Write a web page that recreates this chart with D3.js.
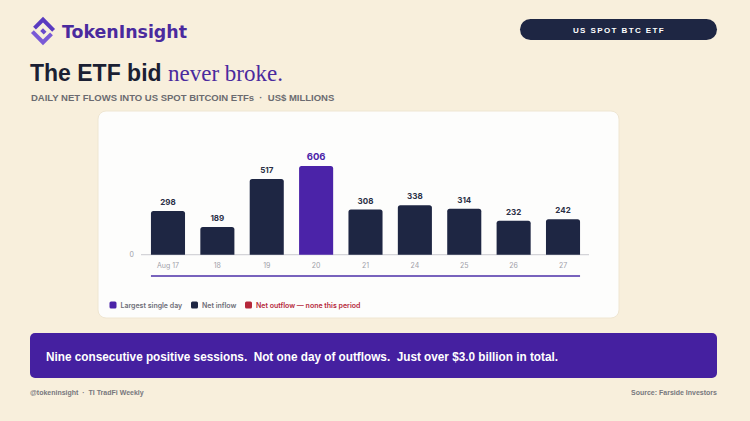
<!DOCTYPE html>
<html>
<head>
<meta charset="utf-8">
<script src="https://cdn.jsdelivr.net/npm/d3@7"></script>
<style>
  html, body { margin: 0; padding: 0; background: #f8efdc; }
  svg { display: block; }
</style>
</head>
<body>
<div id="chart"></div>
<script>
const days = ["Aug 17", "18", "19", "20", "21", "24", "25", "26", "27"];
const flows = [298, 189, 517, 606, 308, 338, 314, 232, 242];
const legendItems = [
    { label: "Largest single day", color: "#4b23a8", text: "#6e6e78" },
    { label: "Net inflow", color: "#1e2643", text: "#6e6e78" },
    { label: "Net outflow — none this period", color: "#b5283a", text: "#b5283a" }];

const width = 750;
const height = 421;
const navy = "#1e2643";
const purple = "#4b23a8";
const sp = "\u00A0";

const svg = d3.select("#chart")
    .append("svg")
    .attr("width", width)
    .attr("height", height);

svg.append("rect")
    .attr("width", width)
    .attr("height", height)
    .attr("fill", "#f8efdc");

// logo mark (rotated square made of two bands)
const logo = svg.append("g").attr("transform", "translate(43,31) rotate(45)");
logo.append("path")
    .attr("d", "M-10,-10 L7,-10 L7,-6 L-6,-6 L-6,4 L-10,4 Z")
    .attr("fill", "#5a3bc0");
logo.append("path")
    .attr("d", "M10,10 L-7,10 L-7,6 L6,6 L6,-4 L10,-4 Z")
    .attr("fill", "#7a5ad6");
logo.append("path")
    .attr("d", "M-2,-2 L3,-2 L3,2 L-2,2 Z")
    .attr("fill", "#6a4acb");

svg.append("text")
    .attr("x", 62)
    .attr("y", 38)
    .text("TokenInsight")
    .attr("textLength", 125)
    .attr("lengthAdjust", "spacingAndGlyphs")
    .style("font-family", "'DejaVu Sans', sans-serif")
    .style("font-weight", "bold")
    .style("font-size", "18px")
    .style("fill", "#4a2a9e");

// pill
svg.append("rect")
    .attr("x", 520)
    .attr("y", 19)
    .attr("width", 197)
    .attr("height", 21)
    .attr("rx", 10.5)
    .attr("fill", navy);

svg.append("text")
    .attr("x", 619)
    .attr("y", 32.5)
    .attr("text-anchor", "middle")
    .text("US SPOT BTC ETF")
    .style("font-family", "'Liberation Sans', Arial, sans-serif")
    .style("font-weight", "bold")
    .style("font-size", "8px")
    .style("letter-spacing", "1.4px")
    .style("fill", "#ffffff");

// title
const title = svg.append("text")
    .attr("x", 30)
    .attr("y", 81)
    .style("font-size", "23px");
title.append("tspan")
    .text("The ETF bid ")
    .style("font-family", "'Liberation Sans', Arial, sans-serif")
    .style("font-weight", "bold")
    .style("fill", "#1b1f33");
title.append("tspan")
    .text("never broke.")
    .style("font-family", "'Liberation Serif', serif")
    .style("fill", "#4a2a9e");

svg.append("text")
    .attr("x", 31)
    .attr("y", 101)
    .text(`DAILY NET FLOWS INTO US SPOT BITCOIN ETFs${sp}${sp}·${sp}${sp}US$ MILLIONS`)
    .style("font-family", "'Liberation Sans', Arial, sans-serif")
    .style("font-weight", "bold")
    .style("font-size", "9.5px")
    .style("fill", "#6b6b70");

// card
svg.append("rect")
    .attr("x", 98)
    .attr("y", 111)
    .attr("width", 521)
    .attr("height", 207)
    .attr("rx", 8)
    .attr("fill", "#fdfdfc")
    .attr("stroke", "#efe6d2")
    .attr("stroke-width", 1);

const x = d3.scaleBand()
    .domain(days)
    .range([143.3, 587.7])
    .paddingInner(0.31)
    .paddingOuter(0.155);

const y = d3.scaleLinear()
    .domain([0, 606])
    .range([254.7, 166]);

svg.append("line")
    .attr("x1", 141)
    .attr("x2", 589)
    .attr("y1", y(0))
    .attr("y2", y(0))
    .attr("stroke", "#d4d4d8")
    .attr("stroke-width", 1.2);

svg.append("text")
    .attr("x", 134)
    .attr("y", y(0) + 2.5)
    .attr("text-anchor", "end")
    .text("0")
    .style("font-family", "Inter, sans-serif")
    .style("font-size", "7px")
    .style("fill", "#a0a0a8");

const maxVal = d3.max(flows);
const data = days.map((d, i) => ({ day: d, value: flows[i] }));

svg.append("g")
    .selectAll("path")
    .data(data)
    .join("path")
    .attr("d", d => {
        const x0 = x(d.day), w = x.bandwidth(), y0 = y(d.value), yb = y(0), r = 2.5;
        return `M${x0},${yb} L${x0},${y0 + r} Q${x0},${y0} ${x0 + r},${y0} L${x0 + w - r},${y0} Q${x0 + w},${y0} ${x0 + w},${y0 + r} L${x0 + w},${yb} Z`;
    })
    .attr("fill", d => d.value === maxVal ? purple : navy);

svg.append("g")
    .selectAll("text")
    .data(data)
    .join("text")
    .attr("x", d => x(d.day) + x.bandwidth() / 2)
    .attr("y", d => y(d.value) - 6)
    .attr("text-anchor", "middle")
    .text(d => d.value)
    .style("font-family", "Inter, sans-serif")
    .style("font-weight", "bold")
    .style("font-size", d => d.value === maxVal ? "9.5px" : "8px")
    .style("fill", d => d.value === maxVal ? purple : "#2a2f45");

svg.append("g")
    .selectAll("text")
    .data(days)
    .join("text")
    .attr("x", d => x(d) + x.bandwidth() / 2)
    .attr("y", 267.5)
    .attr("text-anchor", "middle")
    .text(d => d)
    .style("font-family", "Inter, sans-serif")
    .style("font-size", "7px")
    .style("fill", "#a0a0a8");

svg.append("line")
    .attr("x1", x(days[0]))
    .attr("x2", x(days[days.length - 1]) + x.bandwidth())
    .attr("y1", 276)
    .attr("y2", 276)
    .attr("stroke", "#4b2fa8")
    .attr("stroke-width", 1.6);

// legend
const legendX = [109.5, 191, 245];
const legend = svg.append("g");
legendItems.forEach((d, i) => {
    const g = legend.append("g")
        .attr("transform", `translate(${legendX[i]},305)`);
    g.append("rect")
        .attr("x", 0)
        .attr("y", -3.5)
        .attr("width", 7)
        .attr("height", 7)
        .attr("rx", 1.5)
        .attr("fill", d.color);
    g.append("text")
        .attr("x", 11)
        .attr("y", 2.6)
        .text(d.label)
        .style("font-family", "Inter, sans-serif")
        .style("font-weight", "600")
        .style("font-size", "7px")
        .style("fill", d.text);
});

// banner
svg.append("rect")
    .attr("x", 30)
    .attr("y", 333)
    .attr("width", 687)
    .attr("height", 45)
    .attr("rx", 5)
    .attr("fill", "#4520a0");

svg.append("text")
    .attr("x", 46)
    .attr("y", 360.5)
    .text(`Nine consecutive positive sessions.${sp} Not one day of outflows.${sp} Just over $3.0 billion in total.`)
    .attr("textLength", 512)
    .attr("lengthAdjust", "spacingAndGlyphs")
    .style("font-family", "'Liberation Sans', Arial, sans-serif")
    .style("font-weight", "bold")
    .style("font-size", "12.5px")
    .style("fill", "#ffffff");

svg.append("text")
    .attr("x", 30)
    .attr("y", 395)
    .text(`@tokeninsight${sp}${sp}·${sp}${sp}TI TradFi Weekly`)
    .style("font-family", "'Liberation Sans', Arial, sans-serif")
    .style("font-weight", "bold")
    .style("font-size", "7px")
    .style("fill", "#77777c");

svg.append("text")
    .attr("x", 717)
    .attr("y", 395)
    .attr("text-anchor", "end")
    .text("Source: Farside Investors")
    .style("font-family", "'Liberation Sans', Arial, sans-serif")
    .style("font-weight", "bold")
    .style("font-size", "7px")
    .style("fill", "#77777c");
</script>
</body>
</html>
